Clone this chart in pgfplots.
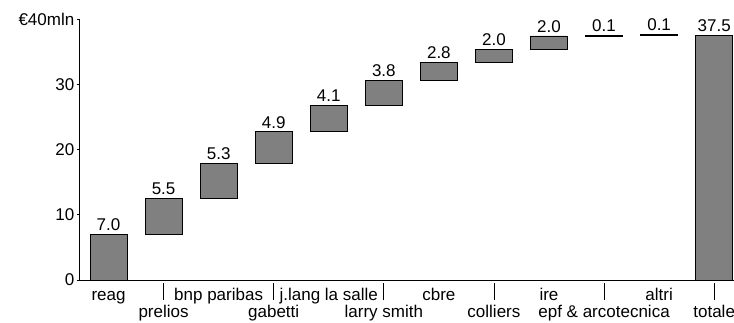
\documentclass[border=0pt]{standalone}
\usepackage{pgfplots}
\usepackage{pgfplotstable}
\pgfplotsset{compat=1.18}
\usepackage{fontspec}
\setmainfont{Liberation Sans}
\newcommand\lab[1]{\makebox[0pt]{\raisebox{17bp}{\rule{0.8bp}{17bp}}}\makebox[0pt]{#1}}
\pgfplotstableread{
x base val top lab
0 0 7.0 7.0 7.0
1 7.0 5.5 12.5 5.5
2 12.5 5.3 17.8 5.3
3 17.8 4.9 22.7 4.9
4 22.7 4.1 26.8 4.1
5 26.8 3.8 30.6 3.8
6 30.6 2.8 33.4 2.8
7 33.4 2.0 35.4 2.0
8 35.4 2.0 37.4 2.0
9 37.4 0.1 37.5 0.1
10 37.5 0.1 37.6 0.1
11 0 37.5 37.5 37.5
}\data
\begin{document}
\fontsize{17bp}{20bp}\selectfont
\begin{tikzpicture}
\begin{axis}[
  name=ax,
  at={(0,0)}, anchor=south west,
  width=654bp, height=261bp, scale only axis,
  xmin=-0.518, xmax=11.36, ymin=0, ymax=40,
  enlargelimits=false,
  ybar, bar shift=0pt, bar width=0.672,
  axis lines=left,
  axis line style={-, line width=1bp, black},
  ytick={0,10,20,30,40},
  yticklabels={0,10,20,30,€40mln},
  yticklabel style={inner sep=2.5bp},
  xtick={0,2,4,6,8,10},
  xticklabels={reag, bnp paribas, j.lang la salle, cbre, ire, altri},
  extra x ticks={1,3,5,7,9,11},
  extra x tick labels={{\lab{prelios}},{\lab{gabetti}},{\lab{larry smith}},{\lab{colliers}},{\lab{epf \& arcotecnica}},{\lab{totale}}},
  tick align=outside, major tick length=3bp,
  tick style={black, line width=0.8bp},
  xtick style={draw=none},
  xticklabel style={anchor=base, yshift=-17bp},
  extra x tick style={xticklabel style={yshift=-20bp}, major tick length=0pt, tick style={draw=none}},
  /pgf/number format/assume math mode=true,
  clip=false,
]
\addplot[draw=none, fill=none, stack plots=y] table[x=x, y=base] {\data};
\addplot[fill=gray, draw=black, line width=0.8bp, stack plots=y] table[x=x, y=val] {\data};
\addplot[draw=none, fill=none, stack plots=false,
  nodes near coords, point meta=explicit symbolic,
  every node near coord/.append style={text=black, anchor=south, inner sep=3.5bp}]
  table[x=x, y=top, meta=lab] {\data};
\end{axis}
\pgfresetboundingbox
\path[use as bounding box] ([xshift=-80bp,yshift=-43bp]ax.south west) rectangle ([yshift=19bp]ax.north east);
\end{tikzpicture}
\end{document}
